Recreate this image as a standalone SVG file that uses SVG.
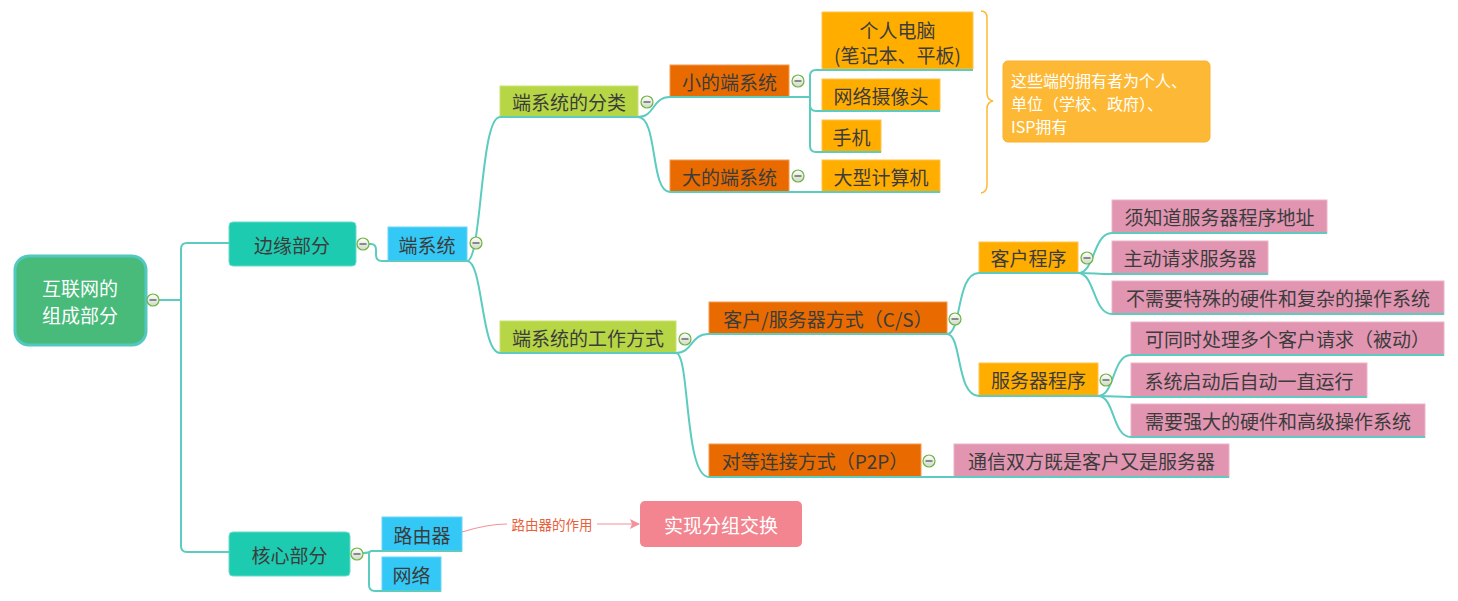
<svg xmlns="http://www.w3.org/2000/svg" width="1458" height="601" viewBox="0 0 1458 601">
<defs>
<style>
text{font-family:"Noto Sans CJK SC","Noto Sans",sans-serif;font-size:19px;fill:#3c3c3c;text-anchor:middle;dominant-baseline:central}
.w{fill:#ffffff}
.l{text-anchor:start;font-size:16px}
.c{fill:none;stroke:#5CCBC0;stroke-width:2}
.root{fill:#48BA7A;stroke:#53C8C0;stroke-width:3}
.main{fill:#1DCBB0;stroke:#6ADACB;stroke-width:1}
.blue{fill:#33C8F5;stroke:#6DD6F7;stroke-width:1}
.lime{fill:#B7D645;stroke:#C9E170;stroke-width:1}
.org{fill:#E96B00;stroke:#F29A4E;stroke-width:1}
.amb{fill:#FFAE00;stroke:#FFC44D;stroke-width:1}
.pink{fill:#E195B1;stroke:#EBB3C8;stroke-width:1}
.note{fill:#FDB935;stroke:#F9B12A;stroke-width:1}
.red{fill:#F2858F}
.tg circle{fill:url(#gi);stroke:#6DB33F;stroke-width:1.2}
.tg path{stroke:#555;stroke-width:1.3}
</style>
<linearGradient id="gi" x1="0" y1="0" x2="0" y2="1"><stop offset="0" stop-color="#ffffff"/><stop offset="1" stop-color="#cfd9c8"/></linearGradient>
<marker id="ah" markerWidth="10" markerHeight="10" refX="9" refY="5" orient="auto" markerUnits="userSpaceOnUse"><path d="M0,0 L10,5 L0,10 L2,5 Z" fill="#F3929A"/></marker>
</defs>

<g id="root"><rect class="root" x="15" y="256" width="131" height="89" rx="14"/><text class="w" x="80" y="287">互联网的</text><text class="w" x="80" y="314">组成部分</text></g>
<g id="edge"><rect class="main" x="229" y="222" width="127" height="44" rx="4"/><text x="292" y="244">边缘部分</text></g>
<g id="endsys"><rect class="blue" x="388" y="227" width="79" height="34"/><text x="427" y="244">端系统</text></g>
<g id="classify"><rect class="lime" x="500" y="86" width="138" height="31"/><text x="569" y="101.5">端系统的分类</text></g>
<g id="small"><rect class="org" x="670" y="65" width="119" height="32"/><text x="729.5" y="81">小的端系统</text></g>
<g id="big"><rect class="org" x="670" y="160" width="119" height="32"/><text x="729.5" y="176">大的端系统</text></g>
<g id="pc"><rect class="amb" x="822" y="12" width="151" height="57"/><text x="897.5" y="29">个人电脑</text><text x="897.5" y="54">(笔记本、平板)</text></g>
<g id="cam"><rect class="amb" x="822" y="79" width="118" height="32"/><text x="881" y="95">网络摄像头</text></g>
<g id="phone"><rect class="amb" x="822" y="120" width="59" height="32"/><text x="851.5" y="136">手机</text></g>
<g id="mainframe"><rect class="amb" x="822" y="160" width="118" height="32"/><text x="881" y="176">大型计算机</text></g>
<g id="note"><rect class="note" x="1003" y="61" width="207" height="81" rx="5"/><text class="w l" x="1011" y="80">这些端的拥有者为个人、</text><text class="w l" x="1011" y="103">单位（学校、政府）、</text><text class="w l" x="1011" y="126">ISP拥有</text></g>
<g id="brace"><path d="M981,11 Q987,11 987,18 V93 Q987,100 993,101 Q987,102 987,109 V185 Q987,192 981,193" fill="none" stroke="#FDB933" stroke-width="1.5"/></g>
<g id="work"><rect class="lime" x="500" y="321" width="176" height="32"/><text x="588" y="337">端系统的工作方式</text></g>
<g id="cs"><rect class="org" x="709" y="302" width="238" height="32"/><text x="828" y="318">客户/服务器方式（C/S）</text></g>
<g id="p2p"><rect class="org" x="709" y="444" width="212" height="33"/><text x="815" y="460.5">对等连接方式（P2P）</text></g>
<g id="p2pdesc"><rect class="pink" x="954" y="444" width="275" height="33"/><text x="1091.5" y="460.5">通信双方既是客户又是服务器</text></g>
<g id="client"><rect class="amb" x="979" y="242" width="99" height="31"/><text x="1028.5" y="257.5">客户程序</text></g>
<g id="server"><rect class="amb" x="979" y="363" width="119" height="33"/><text x="1038.5" y="379.5">服务器程序</text></g>
<g id="c1"><rect class="pink" x="1112" y="200" width="215" height="33"/><text x="1219.5" y="216.5">须知道服务器程序地址</text></g>
<g id="c2"><rect class="pink" x="1112" y="241" width="156" height="33"/><text x="1190" y="257.5">主动请求服务器</text></g>
<g id="c3"><rect class="pink" x="1112" y="281" width="332" height="33"/><text x="1278" y="297.5">不需要特殊的硬件和复杂的操作系统</text></g>
<g id="s1"><rect class="pink" x="1131" y="322" width="313" height="33"/><text x="1287.5" y="338.5">可同时处理多个客户请求（被动）</text></g>
<g id="s2"><rect class="pink" x="1131" y="363" width="236" height="34"/><text x="1249" y="380">系统启动后自动一直运行</text></g>
<g id="s3"><rect class="pink" x="1131" y="404" width="294" height="33"/><text x="1278" y="420.5">需要强大的硬件和高级操作系统</text></g>
<g id="core"><rect class="main" x="229" y="532" width="121" height="44" rx="4"/><text x="289.5" y="554">核心部分</text></g>
<g id="router"><rect class="blue" x="382" y="517" width="80" height="34"/><text x="422" y="534">路由器</text></g>
<g id="net"><rect class="blue" x="382" y="557" width="59" height="34"/><text x="411.5" y="574">网络</text></g>
<g id="switch"><rect class="red" x="640" y="501" width="162" height="46" rx="5"/><text class="w" x="721" y="524">实现分组交换</text></g>

<g id="connectors">
<path class="c" d="M159,300 H181"/>
<path class="c" d="M181,300 V249 Q181,243 187,243 H229"/>
<path class="c" d="M181,300 V546 Q181,552 187,552 H229"/>
<path class="c" d="M369,244 H371 Q376,244 376,250 V255 Q376,261 382,261 H467"/>
<path class="c" d="M467,261 C482,261 480,117 500,117 H638"/>
<path class="c" d="M467,261 C483,261 481,353 500,353 H676"/>
<path class="c" d="M638,117 C655,117 652,97 670,97 H789 H810"/>
<path class="c" d="M638,117 C658,117 650,192 670,192 H940"/>
<path class="c" d="M973,70 H816 Q810,70 810,76 V146 Q810,152 816,152 H881"/>
<path class="c" d="M810,105 Q810,111 816,111 H940"/>
<path class="c" d="M676,353 C693,353 690,334 709,334 H947"/>
<path class="c" d="M676,353 C690,353 684,477 709,477 H1229"/>
<path class="c" d="M947,334 C962,334 956,273 979,273 H1078"/>
<path class="c" d="M947,334 C962,334 956,396 979,396 H1098"/>
<path class="c" d="M1078,273 C1095,273 1093,233 1112,233 H1327"/>
<path class="c" d="M1078,273 C1095,273 1095,274 1112,274 H1268"/>
<path class="c" d="M1078,273 C1095,273 1093,314 1112,314 H1444"/>
<path class="c" d="M1098,396 C1115,396 1112,355 1131,355 H1444"/>
<path class="c" d="M1098,396 C1115,396 1115,397 1131,397 H1367"/>
<path class="c" d="M1098,396 C1115,396 1112,437 1131,437 H1425"/>
<path class="c" d="M363,553 Q369,553 371,551 H462"/>
<path class="c" d="M369,553 V585 Q369,591 375,591 H441"/>
<path d="M462,532 C478,527 492,524 507,524" fill="none" stroke="#F3929A" stroke-width="1.2"/>
<path d="M597,524 H639" fill="none" stroke="#F3929A" stroke-width="1.2" marker-end="url(#ah)"/>
<text x="552" y="524" style="font-size:13.5px;fill:#E8603C">路由器的作用</text>
</g>

<g id="toggles" class="tg">
<g><circle cx="153" cy="300" r="6"/><path d="M149.5,300 H156.5"/></g>
<g><circle cx="363" cy="244" r="6"/><path d="M359.5,244 H366.5"/></g>
<g><circle cx="476" cy="243" r="6"/><path d="M472.5,243 H479.5"/></g>
<g><circle cx="647" cy="102" r="6"/><path d="M643.5,102 H650.5"/></g>
<g><circle cx="798" cy="81" r="6"/><path d="M794.5,81 H801.5"/></g>
<g><circle cx="798" cy="176" r="6"/><path d="M794.5,176 H801.5"/></g>
<g><circle cx="685" cy="339" r="6"/><path d="M681.5,339 H688.5"/></g>
<g><circle cx="955" cy="319" r="6"/><path d="M951.5,319 H958.5"/></g>
<g><circle cx="929" cy="461" r="6"/><path d="M925.5,461 H932.5"/></g>
<g><circle cx="1087" cy="258" r="6"/><path d="M1083.5,258 H1090.5"/></g>
<g><circle cx="1106" cy="380" r="6"/><path d="M1102.5,380 H1109.5"/></g>
<g><circle cx="357" cy="554" r="6"/><path d="M353.5,554 H360.5"/></g>
</g>
</svg>
